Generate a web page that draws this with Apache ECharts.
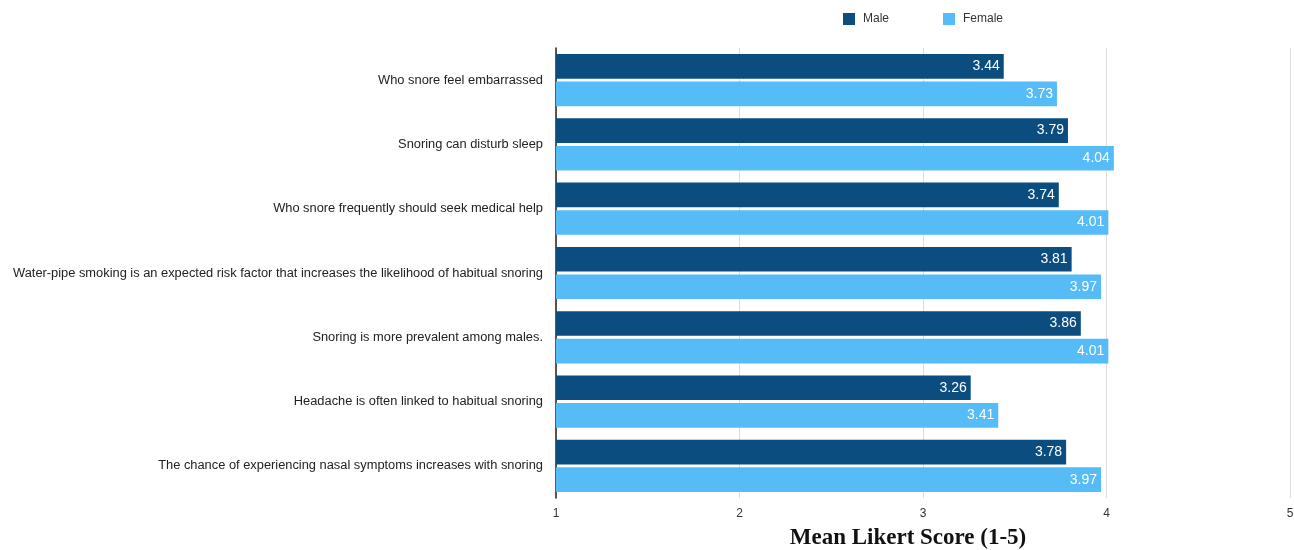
<!DOCTYPE html>
<html>
<head>
<meta charset="utf-8">
<script src="https://cdn.jsdelivr.net/npm/echarts@6/dist/echarts.min.js"></script>
<style>
html,body{margin:0;padding:0;background:#fff;}
#chart{width:1294px;height:550px;}
</style>
</head>
<body>
<div id="chart"></div>
<script>
var categories = [
  "Who snore feel embarrassed",
  "Snoring can disturb sleep",
  "Who snore frequently should seek medical help",
  "Water-pipe smoking is an expected risk factor that increases the likelihood of habitual snoring",
  "Snoring is more prevalent among males.",
  "Headache is often linked to habitual snoring",
  "The chance of experiencing nasal symptoms increases with snoring"
];
var maleValues = [3.44, 3.79, 3.74, 3.81, 3.86, 3.26, 3.78];
var femaleValues = [3.73, 4.04, 4.01, 3.97, 4.01, 3.41, 3.97];
var xTicks = [1, 2, 3, 4, 5];

var chart = echarts.init(document.getElementById('chart'));
var labelStyle = {
  show: true,
  position: 'insideRight',
  distance: 4,
  color: '#ffffff',
  fontSize: 14,
  fontFamily: 'Liberation Sans, Arial, sans-serif',
  formatter: function (p) { return p.value.toFixed(2); }
};
chart.setOption({
  backgroundColor: '#ffffff',
  animation: false,
  textStyle: { fontFamily: 'Liberation Sans, Arial, sans-serif' },
  legend: {
    data: ['Male', 'Female'],
    left: 838,
    top: 8,
    itemWidth: 12,
    itemHeight: 12,
    itemGap: 54,
    icon: 'rect',
    textStyle: { fontSize: 12, color: '#333', padding: [0, 0, 0, 3] }
  },
  grid: { left: 556, right: 4, top: 48, bottom: 52, containLabel: false, outerBoundsMode: 'none' },
  xAxis: {
    type: 'value',
    min: xTicks[0],
    max: xTicks[xTicks.length - 1],
    interval: 1,
    axisLine: { show: false },
    axisTick: { show: false },
    axisLabel: { color: '#333', fontSize: 12, margin: 10 },
    splitLine: { show: true, lineStyle: { color: '#dddddd', width: 1 } },
    name: 'Mean Likert Score (1-5)',
    nameLocation: 'middle',
    nameGap: 29,
    nameTextStyle: {
      fontFamily: 'Liberation Serif, Times New Roman, serif',
      fontWeight: 'bold',
      fontSize: 23,
      color: '#111',
      padding: [0, 30, 0, 0]
    }
  },
  yAxis: {
    type: 'category',
    data: categories,
    inverse: true,
    axisLine: { show: true, lineStyle: { color: '#222', width: 1.5 } },
    axisTick: { show: false },
    axisLabel: { color: '#222', fontSize: 12.85, margin: 13, padding: [0, 0, 4, 0] }
  },
  series: [
    {
      name: 'Male',
      type: 'bar',
      data: maleValues,
      itemStyle: { color: '#0b4d7e' },
      barCategoryGap: '18.75%',
      barGap: '12%',
      label: labelStyle
    },
    {
      name: 'Female',
      type: 'bar',
      data: femaleValues,
      itemStyle: { color: '#56bcf8' },
      label: labelStyle
    }
  ]
});
</script>
</body>
</html>
